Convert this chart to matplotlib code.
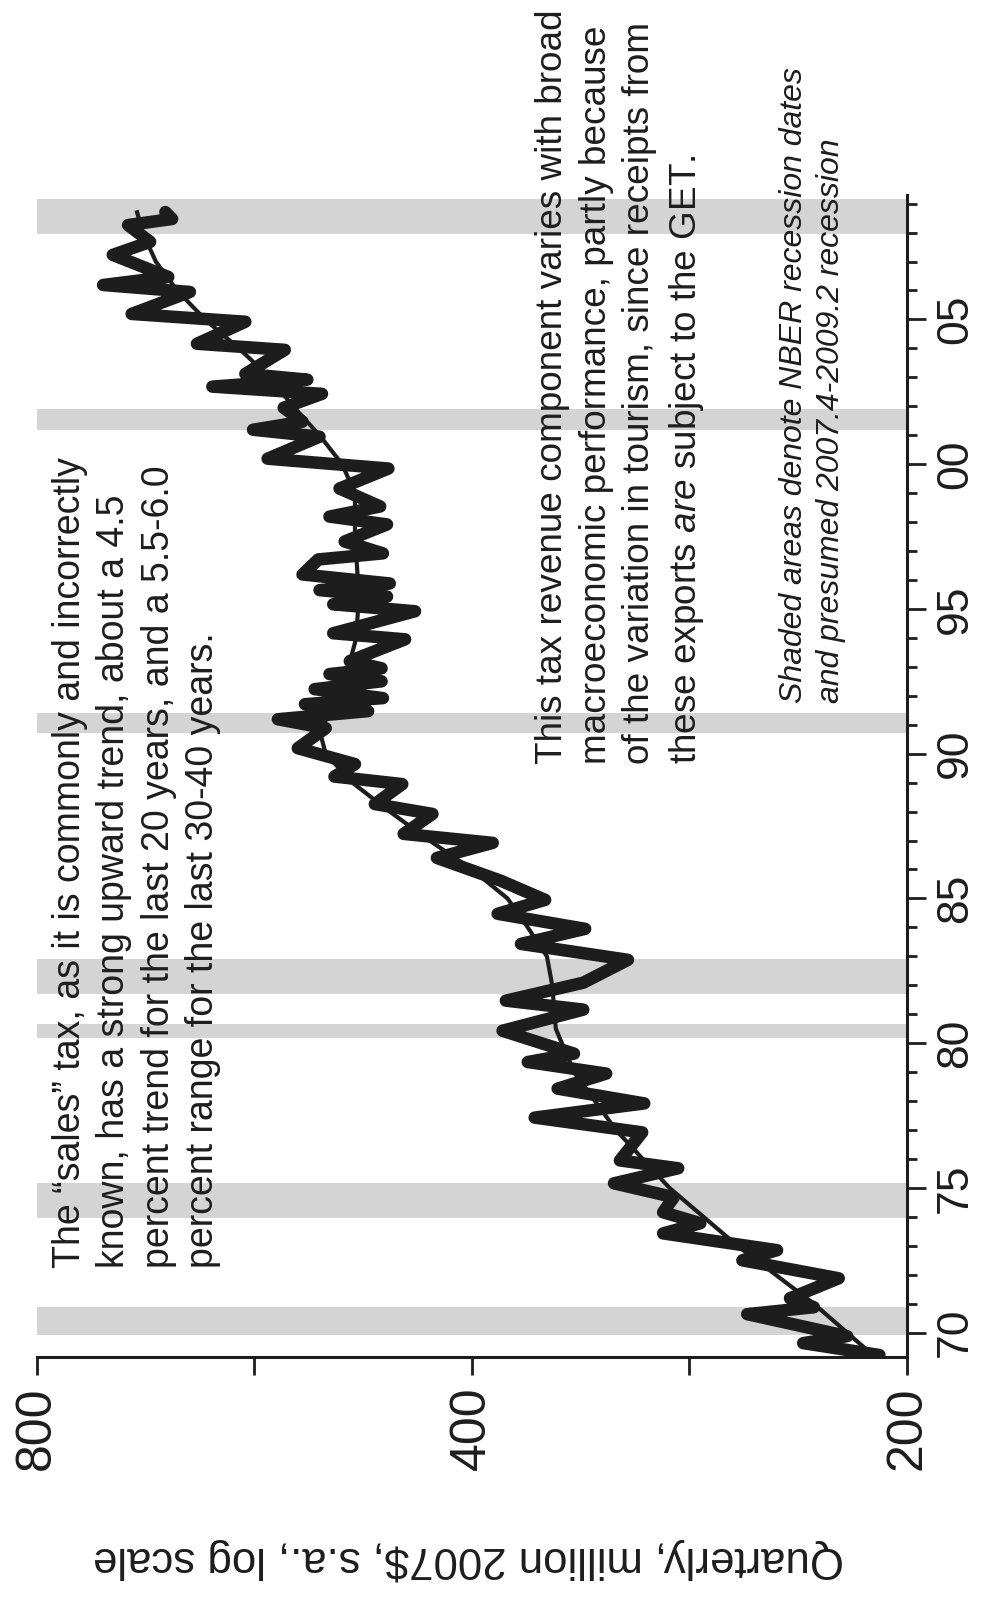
import matplotlib
matplotlib.use('Agg')
import matplotlib.pyplot as plt
from matplotlib.ticker import FixedLocator, NullFormatter

plt.rcParams['font.family'] = ['Liberation Sans', 'DejaVu Sans']
plt.rcParams['mathtext.fontset'] = 'custom'
plt.rcParams['mathtext.rm'] = 'Liberation Sans'
plt.rcParams['mathtext.it'] = 'Liberation Sans:italic'

# GET revenue, quarterly (turning points)
get_year = [1969.23, 1969.64, 1969.88, 1970.64, 1970.88, 1971.19, 1971.88, 1972.50,
            1972.85, 1973.43, 1973.78, 1974.16, 1974.68, 1975.16, 1975.68, 1975.95,
            1976.92, 1977.43, 1977.92, 1978.43, 1978.95, 1979.35, 1979.64, 1980.43,
            1981.16, 1981.47, 1982.09, 1982.88, 1983.43, 1983.95, 1984.47, 1984.95,
            1985.61, 1986.40, 1986.92, 1987.23, 1987.92, 1988.26, 1988.95, 1989.21,
            1989.64, 1990.19, 1990.88, 1991.19, 1991.47, 1991.71, 1991.92, 1992.23,
            1992.50, 1992.75, 1992.95, 1993.20, 1993.95, 1994.16, 1994.92, 1995.16,
            1995.43, 1995.65, 1995.88, 1996.19, 1996.71, 1996.92, 1997.33, 1997.92,
            1998.19, 1998.54, 1999.16, 1999.85, 2000.19, 2000.95, 2001.19, 2001.47,
            2001.95, 2002.43, 2002.68, 2002.92, 2003.12, 2003.95, 2004.16, 2004.92,
            2005.19, 2005.95, 2006.19, 2006.47, 2007.23, 2007.68, 2008.26, 2008.47,
            2008.71]
get_value = [209, 236, 220, 258, 232, 241, 223, 260,
             246, 295, 278, 295, 290, 319, 288, 316,
             305, 362, 304, 349, 323, 366, 340, 381,
             335, 379, 335, 312, 370, 334, 384, 356,
             382, 423, 387, 446, 426, 467, 447, 498,
             482, 528, 505, 545, 472, 522, 461, 514,
             462, 502, 462, 486, 445, 499, 438, 499,
             458, 510, 456, 524, 511, 461, 490, 458,
             502, 463, 494, 457, 554, 510, 567, 524,
             540, 508, 605, 520, 574, 539, 620, 574,
             688, 627, 720, 649, 709, 668, 692, 645,
             652]

# smooth trend
trend_year = [1969.3, 1971.0, 1973.0, 1975.0, 1977.0, 1979.0, 1980.5, 1982.0, 1983.0,
              1984.0, 1985.0, 1986.0, 1987.0, 1988.0, 1989.0, 1990.0, 1990.8, 1991.5,
              1992.5, 1994.0, 1995.5, 1997.5, 1999.0, 2000.0, 2001.0, 2002.0, 2003.0,
              2004.0, 2005.0, 2006.0, 2007.0, 2008.0, 2008.7]
trend_value = [212, 232, 262, 292, 318, 340, 350, 352, 355,
               366, 378, 400, 428, 456, 484, 505, 510, 500,
               490, 481, 479, 482, 482, 492, 510, 532, 552,
               580, 612, 640, 662, 676, 682]

recession_start = [1969.92, 1973.95, 1980.19, 1981.70, 1990.71, 2001.19, 2007.95]
recession_end = [1970.88, 1975.16, 1980.68, 1982.90, 1991.40, 2001.92, 2009.16]

year_ticks = [1970, 1975, 1980, 1985, 1990, 1995, 2000, 2005]
year_labels = ['70', '75', '80', '85', '90', '95', '00', '05']
value_ticks = [800, 400, 200]
value_labels = ['800', '400', '200']
value_minor = [566, 283]

ink = '#1d1d1d'

fig = plt.figure(figsize=(9.81, 15.98), dpi=100)
ax = fig.add_axes([0.0377, 0.1508, 0.8869, 0.7272])

for s, e in zip(recession_start, recession_end):
    ax.axhspan(s, e, color='#d4d4d4', lw=0, zorder=0)

ax.plot(get_value, get_year, color=ink, lw=9, solid_joinstyle='round',
        solid_capstyle='round', zorder=2)
ax.plot(trend_value, trend_year, color=ink, lw=3, zorder=3)

ax.set_xscale('log')
ax.set_xlim(800, 200)
ax.set_ylim(1969.16, 2009.3)

ax.xaxis.set_major_locator(FixedLocator(value_ticks))
ax.xaxis.set_minor_locator(FixedLocator(value_minor))
ax.xaxis.set_minor_formatter(NullFormatter())
ax.set_xticklabels(value_labels, rotation=90, fontsize=36)
ax.tick_params(axis='x', which='both', direction='out', length=13, width=2,
               pad=8, color=ink, labelcolor=ink)

ax.yaxis.tick_right()
ax.set_yticks(year_ticks)
ax.set_yticklabels(year_labels, rotation=90, fontsize=32)
for lbl in ax.get_yticklabels():
    lbl.set_va('center')
ax.yaxis.set_minor_locator(FixedLocator(range(1969, 2010)))
ax.tick_params(axis='y', which='major', direction='out', length=14, width=2,
               pad=6, color=ink, labelcolor=ink)
ax.tick_params(axis='y', which='minor', direction='out', length=7, width=2, color=ink)

ax.spines['left'].set_visible(False)
ax.spines['top'].set_visible(False)
for side in ['right', 'bottom']:
    ax.spines[side].set_linewidth(2.2)
    ax.spines[side].set_color(ink)

fig.text(468 / 981, 1 - 1559 / 1598, 'Quarterly, million 2007$, s.a., log scale',
         rotation=180, ha='center', va='center', fontsize=31.5, color=ink)

fig.text(52 / 981, 1 - 1268 / 1598,
         'The \u201csales\u201d tax, as it is commonly and incorrectly\n'
         'known, has a strong upward trend, about a 4.5\n'
         'percent trend for the last 20 years, and a 5.5-6.0\n'
         'percent range for the last 30-40 years.',
         rotation=90, rotation_mode='anchor', ha='left', va='top',
         fontsize=27, linespacing=1.3, color=ink)

fig.text(535 / 981, 1 - 764 / 1598,
         'This tax revenue component varies with broad\n'
         'macroeconomic performance, partly because\n'
         'of the variation in tourism, since receipts from\n'
         'these exports $\\mathit{are}$ subject to the GET.',
         rotation=90, rotation_mode='anchor', ha='left', va='top',
         fontsize=26.6, linespacing=1.32, color=ink)

fig.text(779 / 981, 1 - 703 / 1598,
         'Shaded areas denote NBER recession dates\n'
         'and presumed 2007.4-2009.2 recession',
         rotation=90, rotation_mode='anchor', ha='left', va='top',
         fontsize=23, style='italic', linespacing=1.3, color=ink)

fig.savefig('out.png', dpi=100)
